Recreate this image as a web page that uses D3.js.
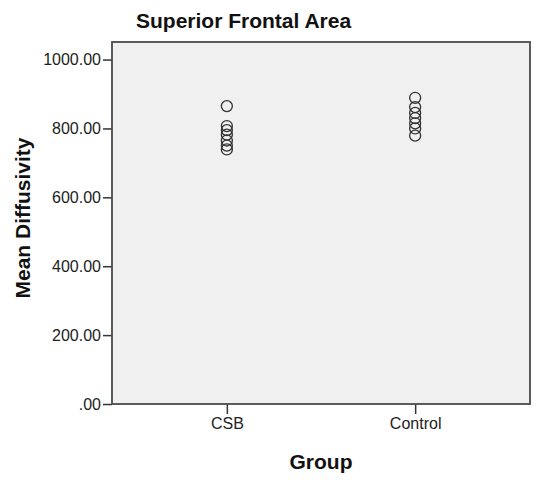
<!DOCTYPE html>
<html>
<head>
<meta charset="utf-8">
<script src="https://cdn.jsdelivr.net/npm/d3@7"></script>
<style>
  body { margin: 0; background: #fff; }
  text { font-family: "Liberation Sans", Arial, sans-serif; }
</style>
</head>
<body>
<div id="chart"></div>
<script>
// Groups and their mean diffusivity values
const groups = ["CSB", "Control"];
const csbValues = [865, 807, 795, 782, 765, 750, 739];
const controlValues = [889, 862, 845, 830, 815, 800, 779];
const yTicks = [0, 200, 400, 600, 800, 1000];

// Flatten into points
const points = [
    ...csbValues.map(v => ({ group: "CSB", value: v })),
    ...controlValues.map(v => ({ group: "Control", value: v }))
];

const width = 538;
const height = 480;
const margin = { top: 42, right: 8, bottom: 76, left: 112 };
const plotW = width - margin.left - margin.right;
const plotH = height - margin.top - margin.bottom;

const svg = d3.select("#chart")
    .append("svg")
    .attr("width", width)
    .attr("height", height);

const g = svg.append("g")
    .attr("transform", `translate(${margin.left},${margin.top})`);

// Scales
const x = d3.scalePoint()
    .domain(groups)
    .range([0, plotW])
    .padding(0.61);

const y = d3.scaleLinear()
    .domain([0, 1051])
    .range([plotH, 0]);

// Plot background
g.append("rect")
    .attr("width", plotW)
    .attr("height", plotH)
    .attr("fill", "#f0f0f0");

// Y axis
const yAxis = g.append("g")
    .call(d3.axisLeft(y)
        .tickValues(yTicks)
        .tickSize(9)
        .tickPadding(2)
        .tickFormat(d => d === 0 ? ".00" : d3.format(".2f")(d)));
yAxis.select(".domain").remove();
yAxis.selectAll(".tick line").attr("stroke", "#333").attr("stroke-width", 1.5);
yAxis.selectAll(".tick text")
    .attr("fill", "#222")
    .style("font-size", "16px")
    .style("font-family", "'Liberation Sans', Arial, sans-serif");

// X axis
const xAxis = g.append("g")
    .attr("transform", `translate(0,${plotH})`)
    .call(d3.axisBottom(x).tickSize(10).tickPadding(4));
xAxis.select(".domain").remove();
xAxis.selectAll(".tick line").attr("stroke", "#333").attr("stroke-width", 1.5);
xAxis.selectAll(".tick text")
    .attr("fill", "#222")
    .style("font-size", "16px")
    .style("font-family", "'Liberation Sans', Arial, sans-serif");

// Plot border
g.append("rect")
    .attr("width", plotW)
    .attr("height", plotH)
    .attr("fill", "none")
    .attr("stroke", "#4a4a4a")
    .attr("stroke-width", 1.8);

// Points
g.append("g")
    .selectAll("circle")
    .data(points)
    .enter().append("circle")
    .attr("cx", d => x(d.group))
    .attr("cy", d => y(d.value))
    .attr("r", 5.5)
    .attr("fill", "none")
    .attr("stroke", "#333")
    .attr("stroke-width", 1.3);

// Title
svg.append("text")
    .attr("x", 136)
    .attr("y", 28)
    .attr("font-size", 21)
    .attr("font-weight", "bold")
    .attr("fill", "#111")
    .text("Superior Frontal Area");

// Axis titles
svg.append("text")
    .attr("x", margin.left + plotW / 2)
    .attr("y", 469)
    .attr("text-anchor", "middle")
    .attr("font-size", 21)
    .attr("font-weight", "bold")
    .attr("fill", "#111")
    .text("Group");

svg.append("text")
    .attr("transform", `translate(30,218) rotate(-90)`)
    .attr("text-anchor", "middle")
    .attr("font-size", 21)
    .attr("font-weight", "bold")
    .attr("fill", "#111")
    .text("Mean Diffusivity");
</script>
</body>
</html>
